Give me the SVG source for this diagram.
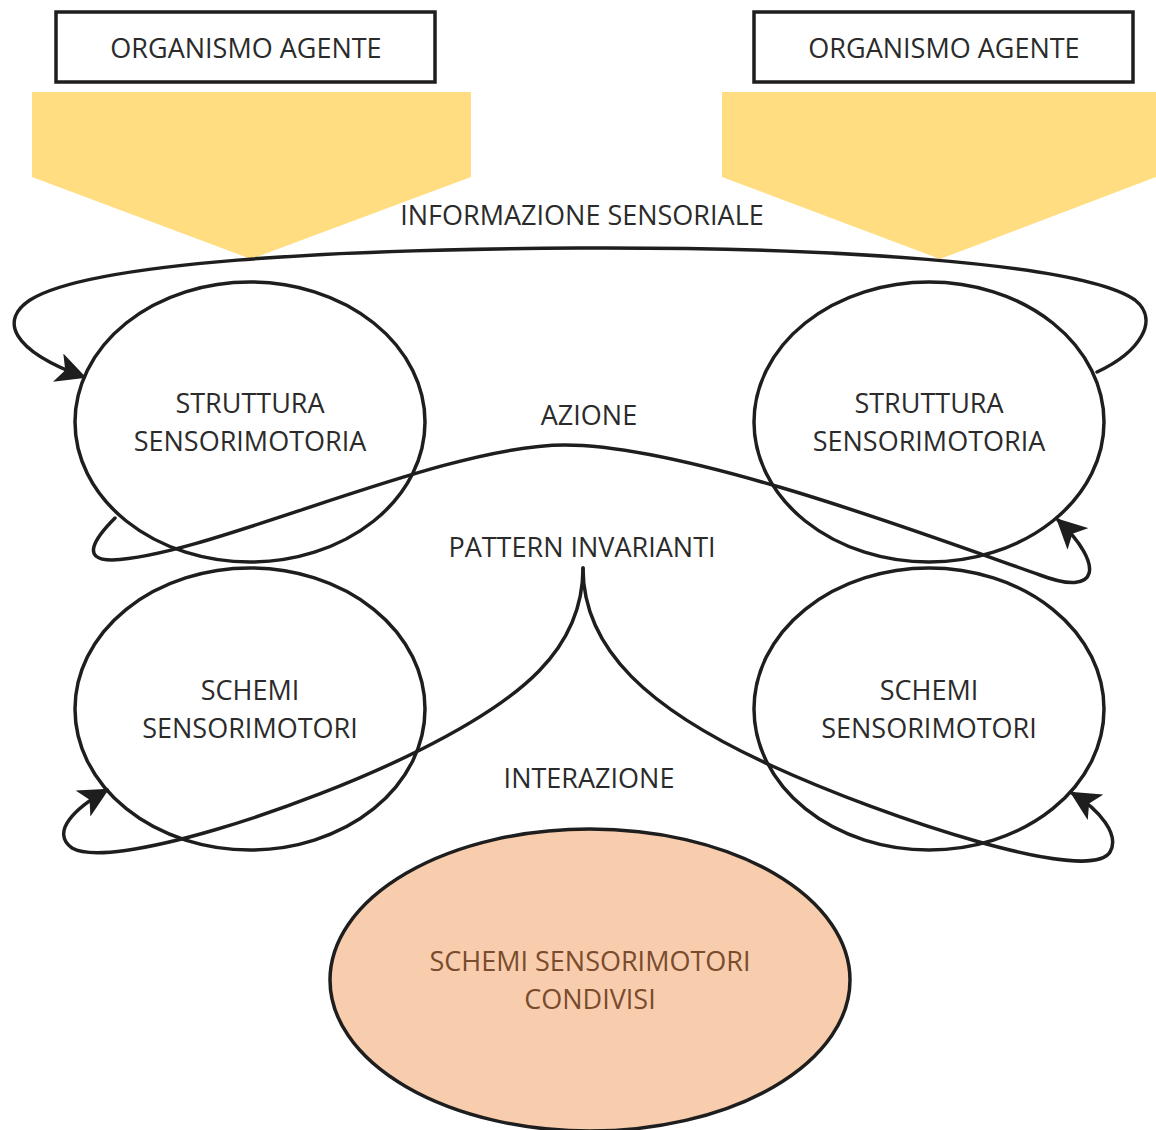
<svg xmlns="http://www.w3.org/2000/svg" width="1156" height="1130" viewBox="0 0 1156 1130">
<defs>
<style>
.t{font-family:"Open Sans","Noto Sans",sans-serif;font-size:27px;fill:#2b2b2b;text-anchor:middle}
.box{fill:#fff;stroke:#1e1e1e;stroke-width:3.5}
.ell{fill:none;stroke:#1e1e1e;stroke-width:3.5}
.con{fill:none;stroke:#1e1e1e;stroke-width:3.5;stroke-linecap:round}
.arrowfill{fill:#FFDD80}
</style>
<marker id="ah2" viewBox="0 0 12 12" refX="11" refY="6" markerWidth="30" markerHeight="30" markerUnits="userSpaceOnUse" orient="auto">
<path d="M0,0 L12,6 L0,12 L3,6 Z" fill="#1e1e1e"/>
</marker>
</defs>
<rect width="1156" height="1130" fill="#fff"/>
<g id="yellow-left"><polygon class="arrowfill" points="32,92 471,92 471,177 251,259 32,177"/></g>
<g id="yellow-right"><polygon class="arrowfill" points="722,92 1156,92 1156,177 940,259 722,177"/></g>
<g id="org-left"><rect class="box" x="56" y="12" width="379" height="70"/><text class="t" x="246" y="58">ORGANISMO AGENTE</text></g>
<g id="org-right"><rect class="box" x="754" y="12" width="379" height="70"/><text class="t" x="944" y="58">ORGANISMO AGENTE</text></g>
<g id="ss-left"><ellipse class="ell" cx="250" cy="422" rx="175" ry="140"/><text class="t" x="250" y="413">STRUTTURA</text><text class="t" x="250" y="451">SENSORIMOTORIA</text></g>
<g id="ss-right"><ellipse class="ell" cx="929" cy="422" rx="175" ry="140"/><text class="t" x="929" y="413">STRUTTURA</text><text class="t" x="929" y="451">SENSORIMOTORIA</text></g>
<g id="sch-left"><ellipse class="ell" cx="250" cy="709" rx="175" ry="141"/><text class="t" x="250" y="700">SCHEMI</text><text class="t" x="250" y="738">SENSORIMOTORI</text></g>
<g id="sch-right"><ellipse class="ell" cx="929" cy="709" rx="175" ry="141"/><text class="t" x="929" y="700">SCHEMI</text><text class="t" x="929" y="738">SENSORIMOTORI</text></g>
<g id="shared"><ellipse cx="590" cy="980" rx="260" ry="151" fill="#F7CDAE" stroke="#1e1e1e" stroke-width="3.5"/><text class="t" x="590" y="971" style="fill:#7a4b2c">SCHEMI SENSORIMOTORI</text><text class="t" x="590" y="1009" style="fill:#7a4b2c">CONDIVISI</text></g>
<g id="connectors">
<path class="con" marker-end="url(#ah2)" d="M1097,372 C1140,352 1160,320 1135,300 C1080,262 820,247 580,248 C340,249 90,262 30,300 C0,320 10,350 84,377"/>
<path class="con" marker-end="url(#ah2)" d="M115,518 C95,538 80,560 112,560 C210,556 440,445 565,445 C690,445 940,540 1040,575 C1100,598 1105,565 1058,520"/>
<path class="con" marker-end="url(#ah2)" d="M583,568 C583,650 520,700 420,750 C300,810 110,870 72,848 C50,832 75,808 107,790"/>
<path class="con" marker-end="url(#ah2)" d="M583,568 C583,650 650,710 770,765 C890,820 1090,885 1110,852 C1120,835 1100,810 1072,793"/>
</g>
<g id="labels">
<text class="t" x="582" y="225">INFORMAZIONE SENSORIALE</text>
<text class="t" x="589" y="425">AZIONE</text>
<text class="t" x="582" y="557">PATTERN INVARIANTI</text>
<text class="t" x="589" y="788">INTERAZIONE</text>
</g>
</svg>
